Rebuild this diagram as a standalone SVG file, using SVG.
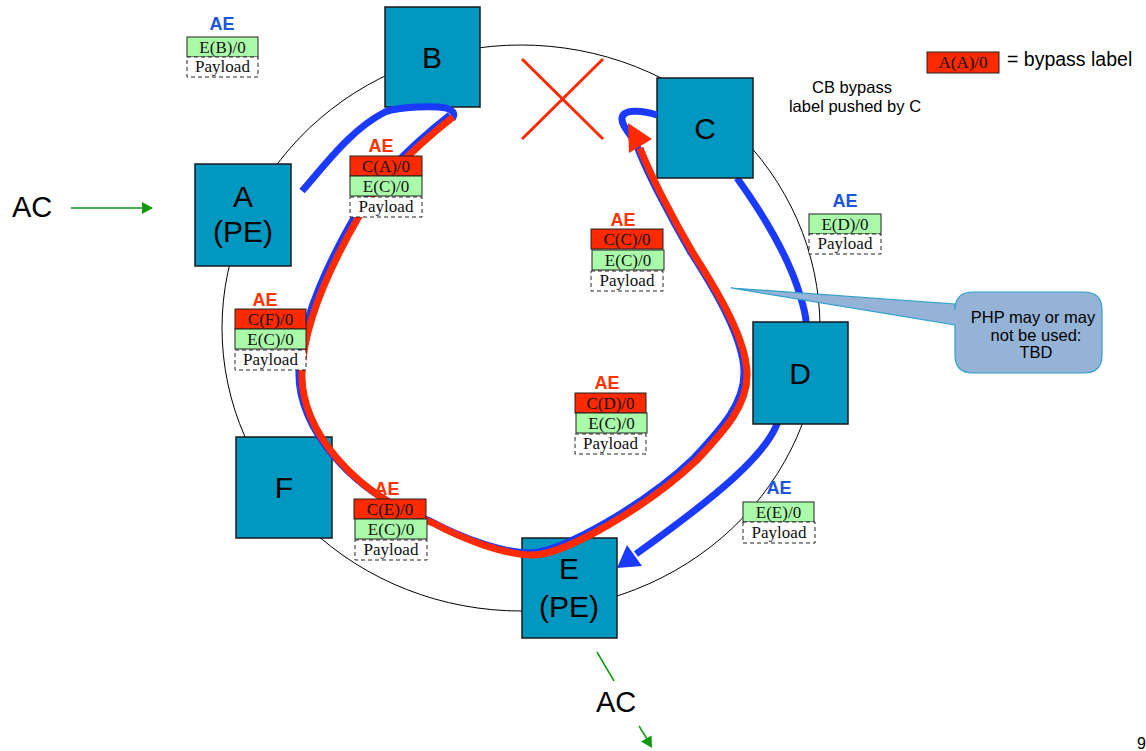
<svg xmlns="http://www.w3.org/2000/svg" width="1146" height="751" viewBox="0 0 1146 751">
<style>
.node rect{fill:#0097C1;stroke:#1a1a1a;stroke-width:1.5}
.node text{font-family:"Liberation Sans",Arial,sans-serif;font-size:30px;fill:#000;text-anchor:middle}
.ring{fill:none;stroke:#000;stroke-width:1}
.blue{fill:none;stroke:#1A3BFF;stroke-width:7}
.red{fill:none;stroke:#FF2A00;stroke-width:7}
.green{fill:none;stroke:#109A10;stroke-width:1.5}
.lr{fill:#FF2A00;stroke:#222;stroke-width:1}
.lg{fill:#A9FBA9;stroke:#222;stroke-width:1}
.lp{fill:#fff;stroke:#222;stroke-width:1;stroke-dasharray:4,3}
.lt{font-family:"Liberation Serif","Times New Roman",serif;font-size:17px;fill:#111;text-anchor:middle}
.ae{font-family:"Liberation Sans",Arial,sans-serif;font-size:18px;font-weight:bold;text-anchor:middle}
.aer{fill:#FF3300}
.aeb{fill:#1A55E0}
.sans{font-family:"Liberation Sans",Arial,sans-serif;fill:#000}
</style>

<g id="connectors-back">
<ellipse class="ring" cx="521" cy="328" rx="299" ry="283"/>
<path class="blue" d="M737,178 C760,210 788,255 800,295 C804,308 806,315 806,322 L777,424 C765,455 720,494 636,554"/>
<polygon points="617,568 627,545 642,566" fill="#1A3BFF"/>
</g>

<g id="node-B" class="node"><rect x="385" y="7" width="95" height="100"/><text x="432" y="68">B</text></g>
<g id="node-C" class="node"><rect x="657" y="78" width="96" height="100"/><text x="705" y="139">C</text></g>
<g id="node-A" class="node"><rect x="195" y="164" width="96" height="102"/><text x="243" y="207">A</text><text x="243" y="242">(PE)</text></g>
<g id="node-D" class="node"><rect x="753" y="322" width="95" height="102"/><text x="800" y="384">D</text></g>
<g id="node-F" class="node"><rect x="236" y="437" width="96" height="101"/><text x="284" y="498">F</text></g>
<g id="node-E" class="node"><rect x="522" y="538" width="95" height="100"/><text x="569" y="579">E</text><text x="569" y="617">(PE)</text></g>

<g id="connectors">
<path class="blue" d="M302,191 C325,165 350,130 385,112 C400,106 435,106 446,108 C455,111 455,115 452,119"/>
<path class="blue" transform="translate(-3,-2)" d="M453,117 C420,143 380,180 358,218 C335,258 303,320 302,373 C300,430 355,495 433,523 C465,540 505,555 533,555 C565,555 650,505 697,460 C725,430 748,405 747,373 C746,340 720,295 693,253 C675,222 650,175 640,148 C634,136 624,128 625,120 C626,111 645,112 660,117"/>
<path class="red" d="M453,117 C420,143 380,180 358,218 C335,258 303,320 302,373 C300,430 355,495 433,523 C465,540 505,555 533,555 C565,555 650,505 697,460 C725,430 748,405 747,373 C746,340 720,295 693,253 C675,222 650,175 640,148"/>
<polygon points="628,123 629,153 652,139" fill="#FF2A00"/>
<line class="green" x1="71" y1="208" x2="143" y2="208"/>
<polygon points="142,202 153,208 142,214" fill="#109A10"/>
<line class="green" x1="597" y1="652" x2="614" y2="681"/>
<line class="green" x1="639" y1="726" x2="647" y2="739"/>
<polygon points="652,748 641,741.5 651.5,735.5" fill="#109A10"/>
</g>

<g id="cross">
<line x1="522" y1="59" x2="603" y2="139" stroke="#FF2A00" stroke-width="3"/>
<line x1="603" y1="59" x2="522" y2="139" stroke="#FF2A00" stroke-width="3"/>
</g>

<g id="stack-EB">
<text class="ae aeb" x="222" y="30">AE</text>
<rect class="lg" x="187" y="37" width="71" height="20"/><text class="lt" x="222.5" y="53">E(B)/0</text>
<rect class="lp" x="187" y="57" width="71" height="20"/><text class="lt" x="222.5" y="72">Payload</text>
</g>
<g id="stack-CA">
<text class="ae aer" x="381" y="152">AE</text>
<rect class="lr" x="350" y="156" width="72" height="20"/><text class="lt" x="386" y="172">C(A)/0</text>
<rect class="lg" x="350" y="176" width="72" height="20"/><text class="lt" x="386" y="192">E(C)/0</text>
<rect class="lp" x="350" y="197" width="72" height="20"/><text class="lt" x="386" y="212">Payload</text>
</g>
<g id="stack-ED">
<text class="ae aeb" x="845" y="207">AE</text>
<rect class="lg" x="809" y="214" width="72" height="20"/><text class="lt" x="845" y="230">E(D)/0</text>
<rect class="lp" x="809" y="234" width="72" height="20"/><text class="lt" x="845" y="249">Payload</text>
</g>
<g id="stack-CC">
<text class="ae aer" x="623" y="226">AE</text>
<rect class="lr" x="591" y="229" width="72" height="20"/><text class="lt" x="627" y="245">C(C)/0</text>
<rect class="lg" x="592" y="250" width="72" height="20"/><text class="lt" x="628" y="266">E(C)/0</text>
<rect class="lp" x="591" y="271" width="72" height="20"/><text class="lt" x="627" y="286">Payload</text>
</g>
<g id="stack-CF">
<text class="ae aer" x="265" y="306">AE</text>
<rect class="lr" x="235" y="309" width="71" height="20"/><text class="lt" x="270.5" y="325">C(F)/0</text>
<rect class="lg" x="235" y="329" width="71" height="20"/><text class="lt" x="270.5" y="345">E(C)/0</text>
<rect class="lp" x="235" y="350" width="71" height="20"/><text class="lt" x="270.5" y="365">Payload</text>
</g>
<g id="stack-CD">
<text class="ae aer" x="607" y="389">AE</text>
<rect class="lr" x="575" y="393" width="71" height="20"/><text class="lt" x="610.5" y="409">C(D)/0</text>
<rect class="lg" x="576" y="413" width="71" height="20"/><text class="lt" x="611.5" y="429">E(C)/0</text>
<rect class="lp" x="575" y="434" width="71" height="20"/><text class="lt" x="610.5" y="449">Payload</text>
</g>
<g id="stack-CE">
<text class="ae aer" x="387" y="495">AE</text>
<rect class="lr" x="354" y="499" width="72" height="20"/><text class="lt" x="390" y="515">C(E)/0</text>
<rect class="lg" x="355" y="519" width="72" height="20"/><text class="lt" x="391" y="535">E(C)/0</text>
<rect class="lp" x="355" y="540" width="72" height="20"/><text class="lt" x="391" y="555">Payload</text>
</g>
<g id="stack-EE">
<text class="ae aeb" x="779" y="494">AE</text>
<rect class="lg" x="743" y="502" width="71" height="20"/><text class="lt" x="778.5" y="518">E(E)/0</text>
<rect class="lp" x="743" y="522" width="72" height="21"/><text class="lt" x="779" y="538">Payload</text>
</g>

<g id="legend">
<rect class="lr" x="927" y="52" width="72" height="21"/><text class="lt" x="963" y="68">A(A)/0</text>
<text class="sans" x="1007" y="66" font-size="19.5">= bypass label</text>
</g>

<g id="cb-note" class="sans" font-size="16.5" text-anchor="middle">
<text x="852" y="93">CB bypass</text>
<text x="855" y="112">label pushed by C</text>
</g>

<g id="callout">
<path d="M973,292 H1084 Q1102,292 1102,310 V355 Q1102,373 1084,373 H973 Q955,373 955,355 V325 L731,288 L955,304 V310 Q955,292 973,292 Z" fill="#95B3D7" stroke="#2FA0C8" stroke-width="1.2"/>
<g class="sans" font-size="16.5" text-anchor="middle">
<text x="1033" y="323">PHP may or may</text>
<text x="1036" y="341">not be used:</text>
<text x="1036" y="358">TBD</text>
</g>
</g>

<text class="sans" x="12" y="217" font-size="29">AC</text>
<text class="sans" x="596" y="712" font-size="29">AC</text>
<text class="sans" x="1137" y="749" font-size="16">9</text>
</svg>
